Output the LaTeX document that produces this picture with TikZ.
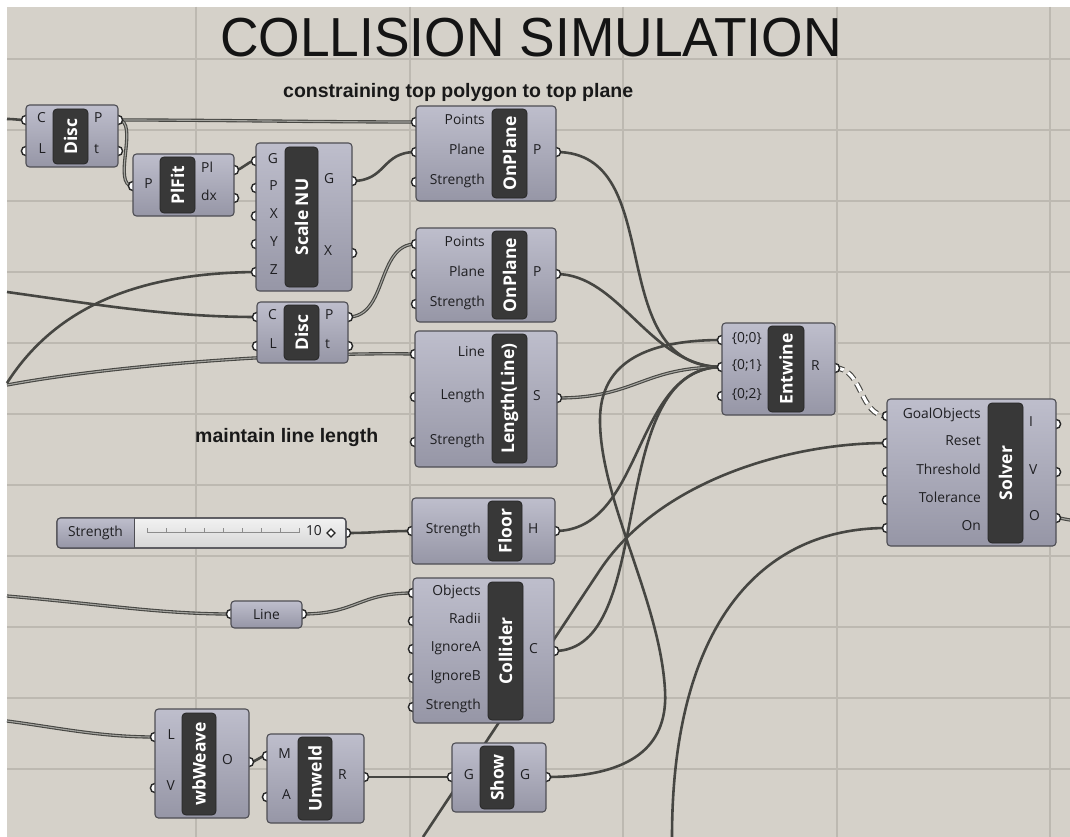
\documentclass[tikz,border=0pt]{standalone}
\usepackage{fontspec}
\newfontfamily\ghfont{Open Sans}
\newfontfamily\arialfont{Liberation Sans}
\newcommand\ghport{\ghfont\fontsize{13.8}{15}\selectfont}
\newcommand\ghname{\ghfont\bfseries\fontsize{17.5}{19}\selectfont}
\definecolor{canvas}{RGB}{213,209,201}
\definecolor{gridcol}{RGB}{189,185,177}
\definecolor{wirecol}{RGB}{70,70,66}
\definecolor{wiregap}{RGB}{165,165,160}
\definecolor{comptop}{RGB}{190,190,204}
\definecolor{compbot}{RGB}{150,150,166}
\definecolor{compline}{RGB}{78,78,84}
\definecolor{corefill}{RGB}{56,56,56}
\definecolor{labelcol}{RGB}{30,30,33}
\definecolor{slidtop}{RGB}{242,242,242}
\definecolor{slidbot}{RGB}{214,214,214}
\pgfdeclarelayer{grid}
\pgfdeclarelayer{wires}
\pgfdeclarelayer{ports}
\pgfsetlayers{grid,wires,ports,main}
\begin{document}
\begin{tikzpicture}[x=1pt,y=-1pt,
  comp/.style={draw=compline,line width=1.1pt,rounded corners=3.5pt,top color=comptop,bottom color=compbot,inner sep=0pt},
  core/.style={draw=black!85,line width=.8pt,fill=corefill,rounded corners=4pt,rotate=90,inner sep=0pt,text=white,font=\ghname},
  inlabel/.style={font=\ghport,text=labelcol,anchor=mid east,inner sep=0pt},
  outlabel/.style={font=\ghport,text=labelcol,anchor=mid west,inner sep=0pt},
  port/.style={draw=black!85,line width=1.4pt,fill=white},
  wire/.style={draw=wirecol,line width=2.6pt},
  lwire/.style={draw=wirecol,line width=1.1pt,double=wiregap,double distance=1.1pt},
  twire/.style={draw=wirecol,line width=1.1pt,double=white,double distance=3.2pt,dash pattern=on 9pt off 5pt},
  gridline/.style={draw=gridcol,line width=1.1pt},
  note/.style={font=\arialfont\bfseries\fontsize{19.5}{22}\selectfont,text=black!90,inner sep=0pt}]
\useasboundingbox (0,0) rectangle (1070,837);
\begin{pgfonlayer}{grid}
\fill[white] (0,0) rectangle (1070,837);
\fill[canvas] (7,7) rectangle (1070,837);
\foreach \x in {196,410,623,837,1050} \draw[gridline] (\x,7)--(\x,837);
\foreach \y in {59,130,201,272,343,414,485,556,627,698,769} \draw[gridline] (7,\y)--(1070,\y);
\end{pgfonlayer}

% titles
\node[font=\arialfont\fontsize{55}{60}\selectfont,text=black!92] (title) at (531,38) {\scalebox{0.97}[1]{COLLISION SIMULATION}};
\node[note,anchor=base west] (note1) at (283,98) {constraining top polygon to top plane};
\node[note,anchor=base west] (note2) at (195,442) {maintain line length};

% Disc, top
\node[comp,minimum width=92,minimum height=62] (disc1) at (72,136) {};
\node[core,minimum width=55,minimum height=35] (disc1-core) at (70.5,136.5) {Disc};
\foreach \p/\y in {C/120,L/151}{\coordinate (disc1-i\p) at (26,\y); \node[inlabel] (disc1-i\p-txt) at (46,\y) {\p};}
\foreach \p/\y in {P/120,t/151}{\coordinate (disc1-o\p) at (118,\y); \node[outlabel] (disc1-o\p-txt) at (94,\y) {\p};}

% PlFit
\node[comp,minimum width=101,minimum height=62] (plfit) at (183.5,185) {};
\node[core,minimum width=56,minimum height=35] (plfit-core) at (177.5,185) {PlFit};
\coordinate (plfit-iP) at (133,186); \node[inlabel] (plfit-iP-txt) at (153,186) {P};
\foreach \p/\y in {Pl/170,dx/198}{\coordinate (plfit-o\p) at (234,\y); \node[outlabel] (plfit-o\p-txt) at (201,\y) {\p};}

% Scale NU
\node[comp,minimum width=96,minimum height=148] (scale) at (304,217) {};
\node[core,minimum width=140,minimum height=33] (scale-core) at (301.5,217) {Scale NU};
\foreach \p/\y in {G/161,P/188,X/216,Y/244,Z/272}{\coordinate (scale-i\p) at (256,\y); \node[inlabel] (scale-i\p-txt) at (278,\y) {\p};}
\foreach \p/\y in {G/181,X/253}{\coordinate (scale-o\p) at (352,\y); \node[outlabel] (scale-o\p-txt) at (324,\y) {\p};}

% OnPlane, top
\node[comp,minimum width=140,minimum height=95] (onp1) at (486,153.5) {};
\node[core,minimum width=89,minimum height=35] (onp1-core) at (509.5,153.5) {OnPlane};
\foreach \p/\y in {Points/122,Plane/152,Strength/182}{\coordinate (onp1-i\p) at (416,\y); \node[inlabel] (onp1-i\p-txt) at (485,\y) {\p};}
\coordinate (onp1-oP) at (556,152); \node[outlabel] (onp1-oP-txt) at (533,152) {P};

% OnPlane, second
\node[comp,minimum width=140,minimum height=94] (onp2) at (486,275) {};
\node[core,minimum width=88,minimum height=35] (onp2-core) at (509.5,275) {OnPlane};
\foreach \p/\y in {Points/244,Plane/274,Strength/304}{\coordinate (onp2-i\p) at (416,\y); \node[inlabel] (onp2-i\p-txt) at (485,\y) {\p};}
\coordinate (onp2-oP) at (556,274); \node[outlabel] (onp2-oP-txt) at (533,274) {P};

% Disc, second
\node[comp,minimum width=91,minimum height=61] (disc2) at (302.5,332.5) {};
\node[core,minimum width=55,minimum height=35] (disc2-core) at (301.5,332.5) {Disc};
\foreach \p/\y in {C/317,L/346}{\coordinate (disc2-i\p) at (257,\y); \node[inlabel] (disc2-i\p-txt) at (277,\y) {\p};}
\foreach \p/\y in {P/317,t/346}{\coordinate (disc2-o\p) at (348,\y); \node[outlabel] (disc2-o\p-txt) at (325,\y) {\p};}

% Length(Line)
\node[comp,minimum width=142,minimum height=136] (len) at (486,399) {};
\node[core,minimum width=129,minimum height=35] (len-core) at (509.5,398.5) {Length(Line)};
\foreach \p/\y in {Line/354,Length/397,Strength/442}{\coordinate (len-i\p) at (415,\y); \node[inlabel] (len-i\p-txt) at (485,\y) {\p};}
\coordinate (len-oS) at (557,398); \node[outlabel] (len-oS-txt) at (533,398) {S};

% Entwine
\node[comp,minimum width=113,minimum height=92] (entw) at (778.5,369) {};
\node[core,minimum width=86,minimum height=36] (entw-core) at (786,369) {Entwine};
\foreach \p/\t/\y in {a/0/340,b/1/367,c/2/396}{\coordinate (entw-i\p) at (722,\y); \node[inlabel] (entw-i\p-txt) at (762,\y) {\{0;\t\}};}
\coordinate (entw-oR) at (835,368); \node[outlabel] (entw-oR-txt) at (811,368) {R};

% Solver
\node[comp,minimum width=169,minimum height=147] (solver) at (971.5,472.5) {};
\node[core,minimum width=140,minimum height=35] (solver-core) at (1005.5,473) {Solver};
\foreach \p/\y in {GoalObjects/416,Reset/443,Threshold/472,Tolerance/500,On/528}{\coordinate (solver-i\p) at (887,\y); \node[inlabel] (solver-i\p-txt) at (981,\y) {\p};}
\foreach \p/\y in {I/424,V/472,O/518}{\coordinate (solver-o\p) at (1056,\y); \node[outlabel] (solver-o\p-txt) at (1029,\y) {\p};}

% number slider
\node[draw=compline,line width=1.1pt,rounded corners=3.5pt,top color=slidtop,bottom color=slidbot,minimum width=289,minimum height=30,inner sep=0pt] (slider) at (201.5,533) {};
\begin{scope}
\clip (50,510) rectangle (134,556);
\fill[top color=comptop,bottom color=compbot,rounded corners=3.5pt] (57,518) rectangle (346,548);
\end{scope}
\draw[compline,line width=1.1pt,rounded corners=3.5pt] (57,518) rectangle (346,548);
\draw[compline,line width=.8pt] (134,518) -- (134,548);
\node[font=\ghport,text=labelcol] (slider-txt) at (95.5,533) {Strength};
\draw[black!45,line width=.6pt] (147,532) -- (300,532);
\foreach \i in {0,...,8} \draw[black!45,line width=.6pt] (147+19*\i,532) -- ++(0,-4);
\node[font=\ghport,text=labelcol,anchor=mid east,inner sep=0pt] (slider-val) at (322,533) {10};
\draw[black!85,line width=1.2pt,fill=white] (331,529) -- (335,533) -- (331,537) -- (327,533) -- cycle;
\coordinate (slider-o) at (346,533);

% Floor
\node[comp,minimum width=143,minimum height=66] (floor) at (483.5,531) {};
\node[core,minimum width=60,minimum height=34] (floor-core) at (505,531) {Floor};
\coordinate (floor-iStrength) at (412,531); \node[inlabel] (floor-iStrength-txt) at (481,531) {Strength};
\coordinate (floor-oH) at (555,531); \node[outlabel] (floor-oH-txt) at (528,531) {H};

% Collider
\node[comp,minimum width=141,minimum height=145] (coll) at (483.5,650.5) {};
\node[core,minimum width=138,minimum height=35] (coll-core) at (505.5,651) {Collider};
\foreach \p/\y in {Objects/593,Radii/621,IgnoreA/649,IgnoreB/678,Strength/707}{\coordinate (coll-i\p) at (413,\y); \node[inlabel] (coll-i\p-txt) at (481,\y) {\p};}
\coordinate (coll-oC) at (554,651); \node[outlabel] (coll-oC-txt) at (529,651) {C};

% Line parameter
\node[comp,minimum width=71,minimum height=27,font=\ghport,text=labelcol] (linep) at (266.5,614.5) {Line};
\coordinate (linep-i) at (231,614); \coordinate (linep-o) at (302,614);

% wbWeave
\node[comp,minimum width=94,minimum height=109] (weave) at (202,763.5) {};
\node[core,minimum width=102,minimum height=34] (weave-core) at (199,764) {wbWeave};
\foreach \p/\y in {L/737,V/788}{\coordinate (weave-i\p) at (155,\y); \node[inlabel] (weave-i\p-txt) at (175,\y) {\p};}
\coordinate (weave-oO) at (249,762); \node[outlabel] (weave-oO-txt) at (222,762) {O};

% Unweld
\node[comp,minimum width=97,minimum height=89] (unweld) at (315.5,778.5) {};
\node[core,minimum width=83,minimum height=34] (unweld-core) at (315,778.5) {Unweld};
\foreach \p/\y in {M/756,A/797}{\coordinate (unweld-i\p) at (267,\y); \node[inlabel] (unweld-i\p-txt) at (291,\y) {\p};}
\coordinate (unweld-oR) at (364,777); \node[outlabel] (unweld-oR-txt) at (338,777) {R};

% Show
\node[comp,minimum width=94,minimum height=69] (show) at (499,777.5) {};
\node[core,minimum width=63,minimum height=34] (show-core) at (497,777.5) {Show};
\coordinate (show-iG) at (452,777); \node[inlabel] (show-iG-txt) at (474,777) {G};
\coordinate (show-oG) at (546,777); \node[outlabel] (show-oG-txt) at (520,777) {G};

% loose ends
\coordinate (src-disc1) at (7,119);
\coordinate (src-scalez) at (7,383);
\coordinate (src-disc2) at (7,292);
\coordinate (src-len) at (7,385);
\coordinate (src-line) at (7,596);
\coordinate (src-weave) at (7,721);
\coordinate (src-reset) at (423,837);
\coordinate (src-on) at (672,837);
\coordinate (out-solver) at (1070,520);

% ports
\begin{pgfonlayer}{ports}
\foreach \c in {disc1-iC,disc1-iL,disc1-oP,disc1-ot,plfit-iP,plfit-oPl,plfit-odx,
  scale-iG,scale-iP,scale-iX,scale-iY,scale-iZ,scale-oG,scale-oX,
  onp1-iPoints,onp1-iPlane,onp1-iStrength,onp1-oP,onp2-iPoints,onp2-iPlane,onp2-iStrength,onp2-oP,
  disc2-iC,disc2-iL,disc2-oP,disc2-ot,len-iLine,len-iLength,len-iStrength,len-oS,
  entw-ia,entw-ib,entw-ic,entw-oR,
  solver-iGoalObjects,solver-iReset,solver-iThreshold,solver-iTolerance,solver-iOn,solver-oI,solver-oV,solver-oO,
  slider-o,floor-iStrength,floor-oH,
  coll-iObjects,coll-iRadii,coll-iIgnoreA,coll-iIgnoreB,coll-iStrength,coll-oC,
  linep-i,linep-o,weave-iL,weave-iV,weave-oO,unweld-iM,unweld-iA,unweld-oR,show-iG,show-oG}
  \draw[port] (\c) circle[radius=4.6];
\end{pgfonlayer}

% wires
\begin{pgfonlayer}{wires}
\draw[wire] (src-disc1) .. controls +(8,0) and +(-8,0) .. (disc1-iC);
\draw[lwire] (disc1-oP) .. controls +(100,0) and +(-100,0) .. (onp1-iPoints);
\draw[lwire] (disc1-oP) .. controls +(22,0) and +(-22,0) .. (plfit-iP);
\draw[wire] (plfit-oPl) .. controls +(10,0) and +(-10,0) .. (scale-iG);
\draw[wire] (scale-oG) .. controls +(35,0) and +(-35,0) .. (onp1-iPlane);
\draw[wire] (src-scalez) .. controls (60,300) and (150,273) .. (scale-iZ);
\draw[wire] (src-disc2) .. controls (100,305) and (170,317) .. (disc2-iC);
\draw[lwire] (src-len) .. controls (120,364) and (300,352) .. (len-iLine);
\draw[lwire] (disc2-oP) .. controls +(40,0) and +(-40,0) .. (onp2-iPoints);
\draw[wire] (onp1-oP) .. controls (670,152) and (600,367) .. (entw-ib);
\draw[wire] (onp2-oP) .. controls (620,274) and (650,367) .. (entw-ib);
\draw[lwire] (len-oS) .. controls +(80,0) and +(-80,0) .. (entw-ib);
\draw[wire] (floor-oH) .. controls +(90,0) and +(-90,0) .. (entw-ib);
\draw[wire] (coll-oC) .. controls +(105,0) and +(-120,0) .. (entw-ib);
\draw[wire] (show-oG) .. controls (640,777) and (668,740) .. (665,690) .. controls (660,600) and (600,500) .. (600,420) .. controls (600,360) and (650,340) .. (entw-ia);
\draw[twire] (entw-oR) .. controls +(28,0) and +(-28,0) .. (solver-iGoalObjects);
\draw[wire] (src-reset) -- (600,570) .. controls (660,480) and (790,443) .. (solver-iReset);
\draw[wire] (src-on) .. controls (672,640) and (750,528) .. (solver-iOn);
\draw[lwire] (solver-oO) .. controls +(8,0) and +(-4,0) .. (out-solver);
\draw[wire] (slider-o) .. controls +(30,0) and +(-30,0) .. (floor-iStrength);
\draw[lwire] (src-line) .. controls (100,604) and (160,614) .. (linep-i);
\draw[lwire] (linep-o) .. controls +(55,0) and +(-55,0) .. (coll-iObjects);
\draw[lwire] (src-weave) .. controls (60,728) and (100,737) .. (weave-iL);
\draw[wire] (weave-oO) .. controls +(9,0) and +(-9,0) .. (unweld-iM);
\draw[wire] (unweld-oR) -- (show-iG);
\end{pgfonlayer}
\end{tikzpicture}
\end{document}
